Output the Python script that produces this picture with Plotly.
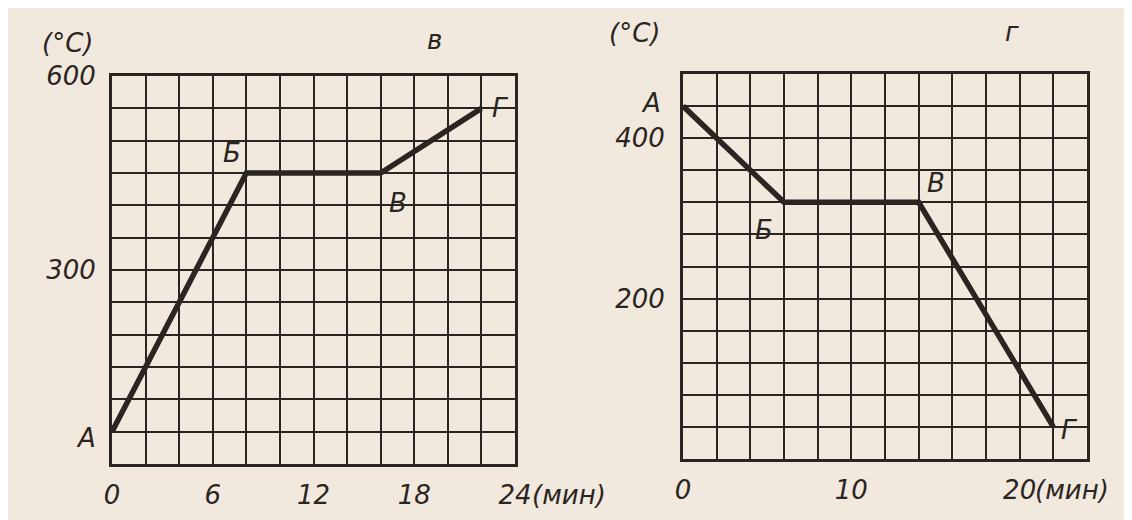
import plotly.graph_objects as go

# Left chart ("в"): heating curve
t_left = [0, 8, 16, 22]
temp_left = [50, 450, 450, 550]
pts_left = ["А", "Б", "В", "Г"]
xticks_left = [0, 6, 12, 18, 24]
yticks_left = [300, 600]

# Right chart ("г"): cooling curve
t_right = [0, 6, 14, 22]
temp_right = [440, 320, 320, 40]
pts_right = ["А", "Б", "В", "Г"]
xticks_right = [0, 10, 20]
yticks_right = [200, 400]

INK = "#2b2521"
PAPER = "#f2e9de"
FONT = dict(family="DejaVu Sans", size=26, color=INK, style="italic")

W, H = 1116, 512  # page body has an 8px margin

def px(x):
    return x / W

def py(y):
    return 1 - y / H

fig = go.Figure()
fig.add_trace(go.Scatter(x=t_left, y=temp_left, mode="lines",
                         line=dict(color=INK, width=5.5), xaxis="x", yaxis="y",
                         showlegend=False, hoverinfo="skip"))
fig.add_trace(go.Scatter(x=t_right, y=temp_right, mode="lines",
                         line=dict(color=INK, width=5.5), xaxis="x2", yaxis="y2",
                         showlegend=False, hoverinfo="skip"))

def axis(domain, rng, ticks, minor, anchor, standoff):
    return dict(domain=domain, range=rng, tickvals=ticks,
                ticktext=[str(v) for v in ticks], showgrid=True,
                gridcolor=INK, gridwidth=2.2, zeroline=False,
                minor=dict(dtick=minor, tick0=0, showgrid=True, gridcolor=INK, gridwidth=2.2),
                showline=True, mirror=True, linecolor=INK, linewidth=3,
                ticks="", ticklabelstandoff=standoff, tickfont=FONT, anchor=anchor,
                automargin=False, fixedrange=True)

fig.update_layout(
    width=W, height=H,
    margin=dict(l=0, r=0, t=0, b=0),
    paper_bgcolor=PAPER, plot_bgcolor=PAPER,
    xaxis=axis([px(104), px(507)], [0, 24], xticks_left, 2, "y", 6),
    yaxis=axis([py(456), py(68)], [0, 600], yticks_left, 50, "x", 8),
    xaxis2=axis([px(675), px(1079)], [0, 24], xticks_right, 2, "y2", 6),
    yaxis2=axis([py(451), py(66)], [0, 480], yticks_right, 40, "x2", 10),
)

anns = []
# point labels (pixel offsets from the points)
off_left = [(-26, -6), (-14, 20), (17, -30), (19, 0)]
for lbl, x, y, (dx, dy) in zip(pts_left, t_left, temp_left, off_left):
    anns.append(dict(x=x, y=y, xref="x", yref="y", text=lbl, showarrow=False,
                     xanchor="center", yanchor="middle",
                     xshift=dx, yshift=dy, font=FONT))
off_right = [(-32, 3), (-20, -28), (17, 19), (16, -3)]
for lbl, x, y, (dx, dy) in zip(pts_right, t_right, temp_right, off_right):
    anns.append(dict(x=x, y=y, xref="x2", yref="y2", text=lbl, showarrow=False,
                     xanchor="center", yanchor="middle",
                     xshift=dx, yshift=dy, font=FONT))

# unit and panel labels
def lab(x, y, text):
    return dict(x=px(x), y=py(y), xref="paper", yref="paper", text=text,
                showarrow=False, xanchor="center", yanchor="middle", font=FONT)

anns += [
    lab(59, 35, "(°C)"),
    lab(426, 32, "в"),
    lab(627, 25, "(°C)"),
    lab(1004, 24, "г"),
    dict(x=24, y=0, xref="x", yref="y", text="(мин)", showarrow=False, font=FONT,
         xanchor="left", yanchor="middle", xshift=15, yshift=-31),
    dict(x=20, y=0, xref="x2", yref="y2", text="(мин)", showarrow=False, font=FONT,
         xanchor="left", yanchor="middle", xshift=13, yshift=-31),
]
fig.update_layout(annotations=anns)

fig.write_html("out.html")
